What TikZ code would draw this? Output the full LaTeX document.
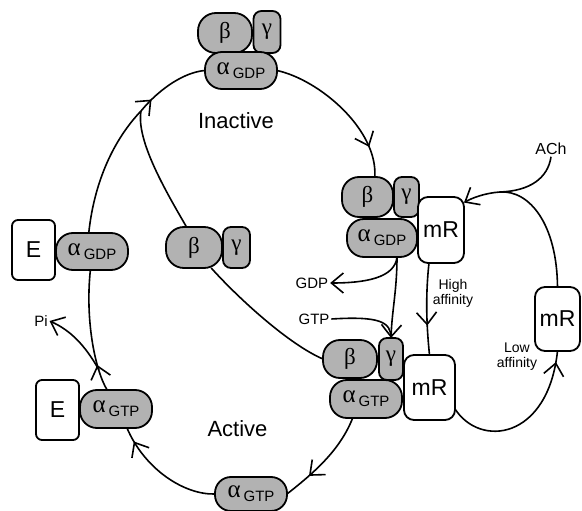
\documentclass[tikz,border=0pt]{standalone}
\usepackage{fontspec}
\setmainfont{Liberation Sans}
\newfontfamily\grk{Liberation Serif}
\usetikzlibrary{arrows.meta,decorations.markings,calc}
\pgfdeclarelayer{bg}
\pgfsetlayers{bg,main}
\definecolor{shade}{gray}{0.7}
\newcommand{\AG}[1]{{\grk\fontsize{25}{25}\selectfont α}\hspace{3pt}\raisebox{-4pt}{\fontsize{15}{15}\selectfont #1}}
\newcommand{\GRK}[1]{{\grk\fontsize{23}{23}\selectfont #1}}
\newcommand{\BIG}[1]{{\fontsize{23}{23}\selectfont #1}}
\begin{document}
\begin{tikzpicture}[x=1pt,y=-1pt,line width=1.8pt,
  sz/.style 2 args={minimum width=#1pt,minimum height=#2pt,inner sep=0pt,outer sep=0pt},
  grey/.style={draw,fill=shade,rounded corners=#1},
  white/.style={draw,fill=white,rounded corners=#1},
  lab/.style={font=\fontsize{15}{15}\selectfont,inner sep=1pt},
  bigt/.style={font=\fontsize{22}{22}\selectfont,inner sep=0pt},
  conn/.style={line width=1.6pt},
  tip/.style={-{Straight Barb[length=12pt,width=20pt]}},
  midarrow/.style={postaction={decorate,decoration={markings,mark=at position #1 with {\arrow{Straight Barb[length=12pt,width=20pt]}}}}}
]
\useasboundingbox (0,0) rectangle (582,511);

% top complex
\node[grey=18pt,sz={54}{40}] (bT) at (225,33) {\GRK{β}};
\node[grey=8pt,sz={27}{42}] (gT) at (267,32) {\GRK{γ}};
\node[grey=17pt,sz={72}{37}] (aT) at (241,70.5) {\AG{GDP}};
\node[bigt] (inact) at (236,121) {Inactive};

% right upper complex
\node[grey=17pt,sz={51}{40}] (bR1) at (367.5,197) {\GRK{β}};
\node[grey=8pt,sz={25}{40}] (gR1) at (406.5,197) {\GRK{γ}};
\node[grey=17pt,sz={70}{38}] (aR1) at (382,238) {\AG{GDP}};
\node[white=10pt,sz={46}{66}] (mR1) at (441,230) {\BIG{mR}};

% right lower complex
\node[grey=17pt,sz={54}{38}] (bR2) at (350,359) {\GRK{β}};
\node[grey=8pt,sz={24}{42}] (gR2) at (391,359) {\GRK{γ}};
\node[grey=17pt,sz={72}{38}] (aR2) at (366,399) {\AG{GTP}};
\node[white=10pt,sz={51}{65}] (mR2) at (429.5,387.5) {\BIG{mR}};

% right mR
\node[white=10pt,sz={45}{64}] (rmR) at (557.5,319) {\BIG{mR}};

% free beta gamma
\node[grey=18pt,sz={56}{41}] (bF) at (194,247.5) {\GRK{β}};
\node[grey=8pt,sz={27}{41}] (gF) at (236.5,247.5) {\GRK{γ}};

% left
\node[white=6pt,sz={43}{60}] (E1) at (33.5,250) {\BIG{E}};
\node[grey=17pt,sz={72}{37}] (aL1) at (92,251.5) {\AG{GDP}};
\node[white=6pt,sz={43}{60}] (E2) at (57.5,410) {\BIG{E}};
\node[grey=17pt,sz={72}{38}] (aL2) at (116,409) {\AG{GTP}};
\node[bigt] (act) at (237.5,429) {Active};

% bottom
\node[grey=16pt,sz={72}{34}] (aB) at (251,494) {\AG{GTP}};

% labels
\node[lab] (gdp) at (312,283) {GDP};
\node[lab] (gtp) at (314,319) {GTP};
\node[lab] (pi) at (41,321) {Pi};
\node[font=\fontsize{16}{16}\selectfont,inner sep=1pt] (ach) at (551,149) {ACh};
\node[lab,align=center,font=\fontsize{14}{15}\selectfont] (high) at (453,293) {High\\affinity};
\node[lab,align=center,font=\fontsize{14}{15}\selectfont] (low) at (517,357) {Low\\affinity};

\coordinate (junc) at (500,192);
\coordinate (g0) at ($(aR1.south)+(15,0)$);
\coordinate (pj) at (99,370);
\coordinate (merge) at (141,111);

\begin{pgfonlayer}{bg}
\begin{scope}[conn]
% top -> right complex
\draw[midarrow=0.8] (aT.east) .. controls (320,80) and (378,130) .. (bR1.70);
% loop top with ACh
\draw[tip] (rmR.north) .. controls (557,225) and (530,190) .. (junc) .. controls (485,193) and (472,198) .. (mR1.50);
\draw (ach.south) .. controls (548,178) and (530,191) .. (junc);
% high affinity
\draw[midarrow=0.68] (mR1.250) .. controls (425,300) and (427,330) .. (mR2.north);
% loop bottom
\draw[midarrow=0.93] (mR2.-40) .. controls (480,448) and (548,440) .. (rmR.south);
% GDP out, GTP in
\draw[tip] (g0) .. controls (395,278) and (365,283) .. (gdp.east);
\draw[tip] (g0) .. controls (397,290) and (392,310) .. (gR2.north);
\draw (gtp.east) .. controls (380,316) and (391,322) .. (gR2.north);
% inner beta gamma path
\draw (bR2.west) .. controls (290,345) and (240,300) .. (bF.-50);
\draw (bF.110) .. controls (165,190) and (136,140) .. (merge);
% left arc
\draw (aL1.100) .. controls (95,175) and (118,135) .. (merge);
\draw[midarrow=0.2] (merge) .. controls (160,88) and (185,72) .. (aT.west);
\draw[midarrow=0.22] (aL2.115) .. controls (95,370) and (85,320) .. (aL1.-95);
\draw[tip] (pj) .. controls (85,345) and (70,330) .. (pi.east);
% bottom
\draw[midarrow=0.87] (aB.west) .. controls (185,495) and (145,470) .. (aL2.-60);
\draw[midarrow=0.72] (aR2.-125) .. controls (340,450) and (315,472) .. (aB.east);
\end{scope}
\end{pgfonlayer}
\end{tikzpicture}
\end{document}
